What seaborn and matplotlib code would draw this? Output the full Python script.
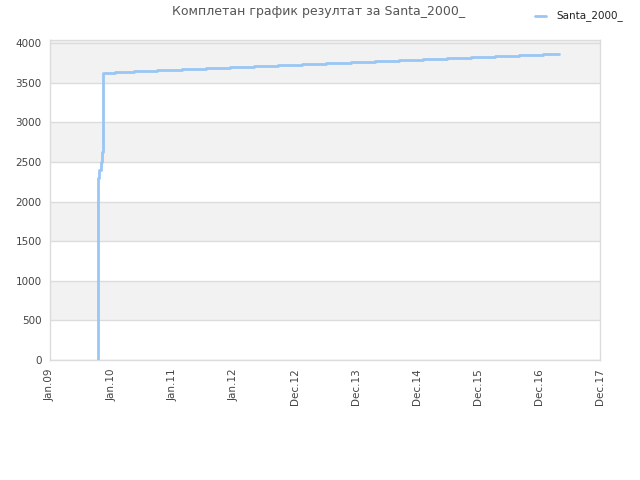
import pandas as pd
import matplotlib.pyplot as plt
import seaborn as sns

# Data
TITLE = "Комплетан график резултат за Santa_2000_"
PLAYER = "Santa_2000_"
DATES = [
    "2009-10-12", "2009-10-12", "2009-10-12", "2009-10-12", "2009-10-12",
    "2009-10-17", "2009-10-23", "2009-10-31", "2009-11-06", "2009-11-11",
    "2010-01-23", "2010-05-15", "2010-10-05", "2011-02-26", "2011-07-20",
    "2011-12-11", "2012-05-03", "2012-09-24", "2013-02-15", "2013-07-09",
    "2013-11-30", "2014-04-23", "2014-09-13", "2015-02-04", "2015-06-28",
    "2015-11-19", "2016-04-11", "2016-09-01", "2017-01-23", "2017-04-28",
]
SCORES = [
    0, 400, 1000, 1600, 2200,
    2300, 2400, 2500, 2620, 3620,
    3633, 3645, 3658, 3671, 3683,
    3696, 3709, 3721, 3734, 3747,
    3759, 3772, 3784, 3797, 3810,
    3822, 3835, 3848, 3860, 3860,
]
X_TICKS = ["2009-01-01", "2010-01-01", "2011-01-01", "2012-01-01", "2012-12-31",
           "2013-12-31", "2014-12-31", "2015-12-31", "2016-12-30", "2017-12-30"]
X_LABELS = ["Jan.09", "Jan.10", "Jan.11", "Jan.12", "Dec.12",
            "Dec.13", "Dec.14", "Dec.15", "Dec.16", "Dec.17"]
Y_TICKS = [0, 500, 1000, 1500, 2000, 2500, 3000, 3500, 4000]

df = pd.DataFrame({"date": pd.to_datetime(DATES), "score": SCORES, "player": PLAYER})

sns.set_style("white")
plt.rcParams["font.family"] = ["DejaVu Sans"]

fig = plt.figure(figsize=(6.4, 4.8), dpi=100)
ax = fig.add_axes([0.078, 0.25, 0.86, 0.667])

# alternating background bands
for lo in range(0, 4000, 1000):
    ax.axhspan(lo + 500, lo + 1000, color="#f2f2f2", zorder=0, lw=0)
ax.axhspan(4000, 4040, color="#f2f2f2", zorder=0, lw=0)
for y in Y_TICKS:
    ax.axhline(y, color="#dcdcdc", lw=1, zorder=1)

sns.lineplot(data=df, x="date", y="score", hue="player", palette=["#99c6f3"],
             estimator=None, sort=False, drawstyle="steps-post", lw=2,
             ax=ax, zorder=3, legend=False)

ax.set_xlim(pd.Timestamp("2009-01-01"), pd.Timestamp("2017-12-30"))
ax.set_ylim(0, 4040)
ax.set_xticks(pd.to_datetime(X_TICKS))
ax.set_xticklabels(X_LABELS, rotation=90, fontsize=7.5, color="#444444")
ax.set_yticks(Y_TICKS)
ax.set_yticklabels([str(v) for v in Y_TICKS], fontsize=7.5, color="#444444")
ax.tick_params(length=0, pad=6)
ax.set_xlabel("")
ax.set_ylabel("")
for s in ax.spines.values():
    s.set_color("#dcdcdc")
    s.set_linewidth(1)

fig.text(0.497, 0.975, TITLE, ha="center", va="center", fontsize=9, color="#555555")
fig.lines.append(plt.Line2D([0.836, 0.853], [0.967, 0.967], color="#99c6f3", lw=2,
                            transform=fig.transFigure))
fig.text(0.869, 0.967, PLAYER, ha="left", va="center", fontsize=7.5, color="#222222")

fig.savefig("out.png", dpi=100)
